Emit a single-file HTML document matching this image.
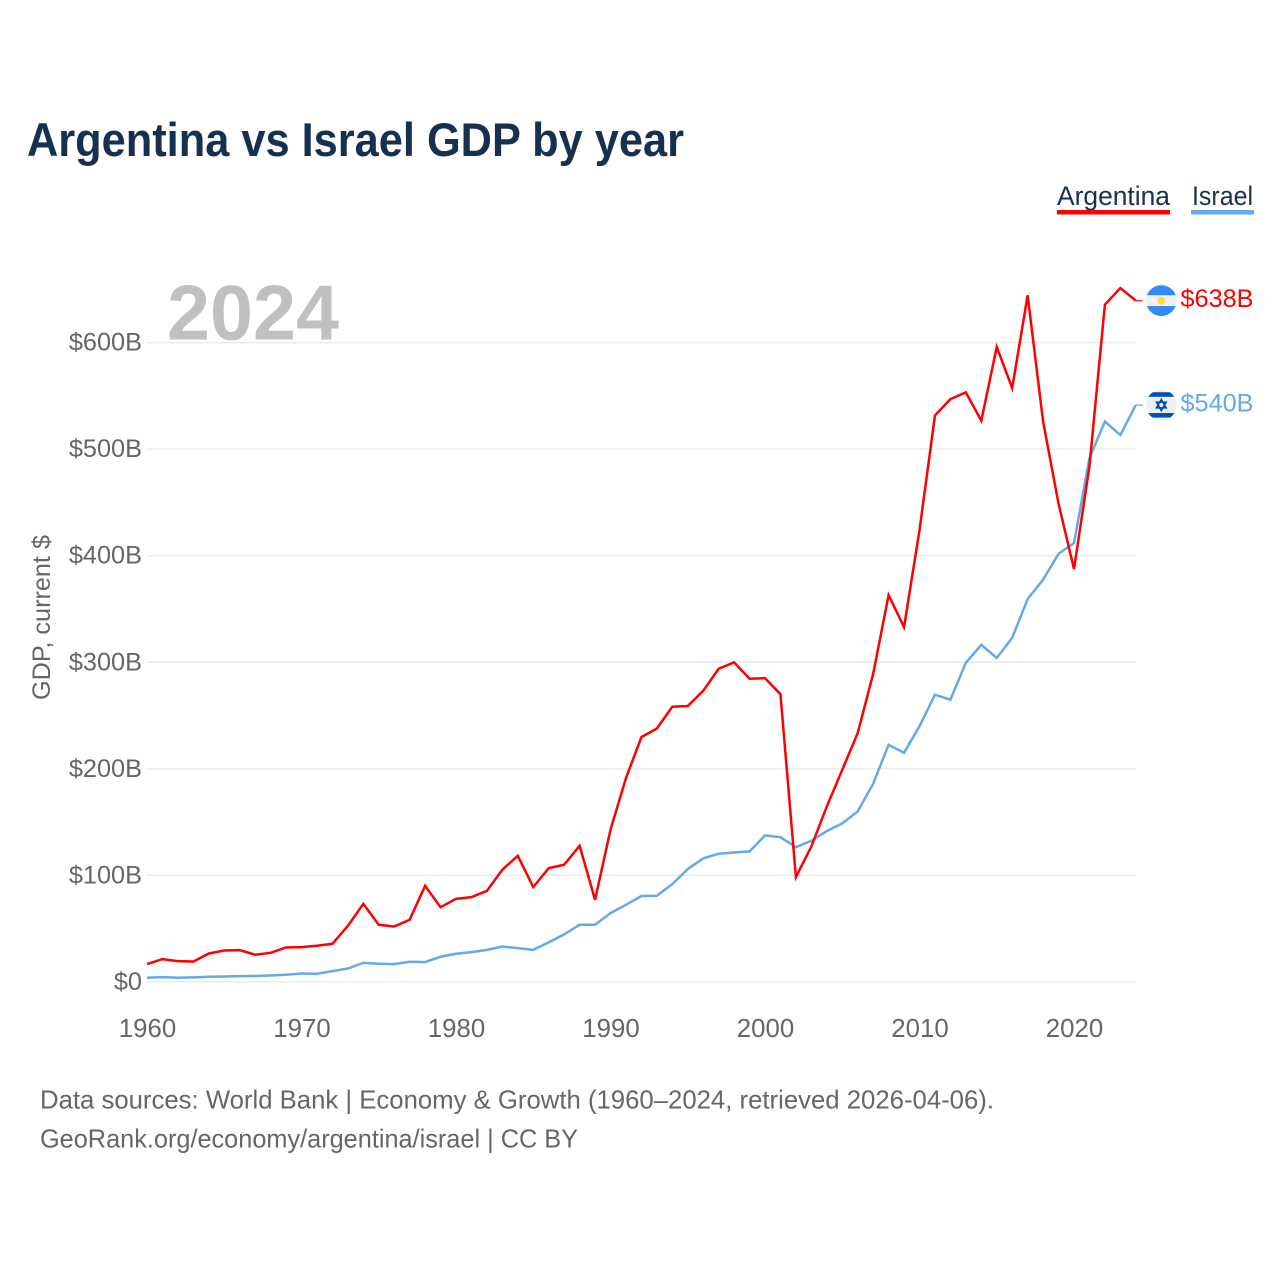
<!DOCTYPE html>
<html lang="en">
<head>
<meta charset="utf-8">
<title>Argentina vs Israel GDP by year</title>
<style>
html,body{margin:0;padding:0;background:#fff;width:1280px;height:1280px;overflow:hidden}
svg{display:block}
text{font-family:"Liberation Sans",sans-serif}
</style>
</head>
<body>
<svg id="chart" xmlns="http://www.w3.org/2000/svg" width="1280" height="1280" viewBox="0 0 1280 1280">
  <rect x="0" y="0" width="1280" height="1280" fill="#ffffff"/>
  <text x="27" y="156" font-size="47" font-weight="700" fill="#16304f" textLength="657" lengthAdjust="spacingAndGlyphs">Argentina vs Israel GDP by year</text>

  <g>
    <text x="1057" y="205" font-size="27" fill="#16304f" textLength="113" lengthAdjust="spacingAndGlyphs">Argentina</text>
    <rect x="1057" y="210" width="113" height="4.5" fill="#ff0000"/>
  </g>
  <g>
    <text x="1192" y="205" font-size="27" fill="#16304f" textLength="61" lengthAdjust="spacingAndGlyphs">Israel</text>
    <rect x="1191" y="210" width="63" height="4.5" fill="#63a9ec"/>
  </g>

  <text x="167" y="339.5" font-size="78" font-weight="700" fill="#c0c0c0" textLength="172" lengthAdjust="spacingAndGlyphs">2024</text>

  <g id="grid"></g>
  <g id="yticks"></g>
  <g id="xticks"></g>

  <text transform="translate(50,700) rotate(-90)" x="0" y="0" font-size="25" fill="#666666" textLength="165" lengthAdjust="spacingAndGlyphs">GDP, current $</text>

  <g id="series"></g>

  <g id="flag-ar">
    <defs>
      <clipPath id="clip-ar"><circle cx="0" cy="0" r="15.4"/></clipPath>
      <clipPath id="clip-il"><circle cx="0" cy="0" r="15.4"/></clipPath>
    </defs>
    <g clip-path="url(#clip-ar)">
      <rect x="-16" y="-16" width="32" height="32" fill="#f0f0f0"/>
      <rect x="-16" y="-16" width="32" height="10.6" fill="#338af3"/>
      <rect x="-16" y="5.4" width="32" height="10.6" fill="#338af3"/>
    </g>
    <circle cx="0" cy="0" r="4" fill="#ffda44"/>
  </g>
  <g id="flag-il">
    <g clip-path="url(#clip-il)">
      <rect x="-16" y="-16" width="32" height="32" fill="#f0f0f0"/>
      <rect x="-16" y="-12.8" width="32" height="4.6" fill="#0052b4"/>
      <rect x="-16" y="8" width="32" height="4.6" fill="#0052b4"/>
    </g>
    <path d="M0,-5.5 L4.8,2.8 L-4.8,2.8 Z M0,5.5 L4.8,-2.8 L-4.8,-2.8 Z" fill="none" stroke="#0052b4" stroke-width="1.7"/>
  </g>

  <g id="end-labels"></g>

  <text x="40" y="1108.5" font-size="26" fill="#666666" textLength="954" lengthAdjust="spacingAndGlyphs">Data sources: World Bank | Economy &amp; Growth (1960–2024, retrieved 2026-04-06).</text>
  <text x="40" y="1147.5" font-size="26" fill="#666666" textLength="538" lengthAdjust="spacingAndGlyphs">GeoRank.org/economy/argentina/israel | CC BY</text>
</svg>
<script>
const years = [1960,1961,1962,1963,1964,1965,1966,1967,1968,1969,1970,1971,1972,1973,1974,1975,1976,1977,1978,1979,1980,1981,1982,1983,1984,1985,1986,1987,1988,1989,1990,1991,1992,1993,1994,1995,1996,1997,1998,1999,2000,2001,2002,2003,2004,2005,2006,2007,2008,2009,2010,2011,2012,2013,2014,2015,2016,2017,2018,2019,2020,2021,2022,2023,2024];
const argentinaGdp = [16.6,21.3,19.4,19,26.6,29.4,29.7,25.4,27.2,32.2,32.6,33.8,35.7,52.5,73.2,53.5,51.9,58.2,90.1,70,77.9,79.5,85.4,105.2,118.3,88.9,106.7,109.9,127.7,77,142.7,191.2,229.7,237.8,258.2,258.9,273.2,293.9,299.9,284.5,285.1,270,98.3,127,164.6,199,233.5,289,363,333,424,531.7,547,553.4,526.8,596,557.4,644.5,526,448.8,387.5,484,635.7,651.3,639.5];
const israelGdp = [3.8,4.4,3.8,4.1,4.7,5,5.3,5.4,5.9,6.6,7.8,7.5,10,12.5,17.8,16.9,16.6,18.8,18.5,23.5,26.3,27.9,30,33.1,31.6,30,37,44.5,53.5,53.5,64.5,72.3,80.5,80.8,91.7,105.8,115.8,120.2,121.4,122.4,137.4,135.8,126.4,132.4,141.5,148.7,159.9,186,222.5,215,240,269.5,264.8,299.5,316.4,304,323,359.4,377.5,401.9,411.9,491.7,526,513.3,541.5];
const yTickValues = [0,100,200,300,400,500,600];
const yTickLabels = ['$0','$100B','$200B','$300B','$400B','$500B','$600B'];
const xTickValues = [1960,1970,1980,1990,2000,2010,2020];
const endValueLabels = ['$638B','$540B'];

const NS = 'http://www.w3.org/2000/svg';
const xScale = year => 147 + (year - 1960) * 15.45;
const yScale = value => 981.8 - value * (981.8 - 342.7) / 600;

function make(tag, attrs, parent, text) {
  const el = document.createElementNS(NS, tag);
  for (const key in attrs) el.setAttribute(key, attrs[key]);
  if (text !== undefined) el.textContent = text;
  parent.appendChild(el);
  return el;
}

const gridGroup = document.getElementById('grid');
const yTickGroup = document.getElementById('yticks');
yTickValues.forEach((value, i) => {
  const y = yScale(value);
  const line = make('line', {x1: 147, x2: 1136, y1: y, y2: y, stroke: '#e9e9e9', 'stroke-width': 1.4}, gridGroup);
  
  
  const label = make('text', {x: 142, y: y + 8, 'text-anchor': 'end', 'font-size': 25.3, fill: '#666666'}, yTickGroup, yTickLabels[i]);
  
  
});

const xTickGroup = document.getElementById('xticks');
xTickValues.forEach(year => {
  const label = make('text', {x: xScale(year) + 0.5, y: 1037, 'text-anchor': 'middle', 'font-size': 25.8, fill: '#666666'}, xTickGroup, String(year));
  
  
});

function seriesPoints(values) {
  return values.map((v, i) => xScale(years[i]).toFixed(2) + ',' + yScale(v).toFixed(2)).join(' ');
}

const seriesGroup = document.getElementById('series');
const israelLine = make('polyline', {points: seriesPoints(israelGdp), fill: 'none', stroke: '#63a9ec', 'stroke-width': 2.5, 'stroke-linejoin': 'miter'}, seriesGroup);


const argentinaLine = make('polyline', {points: seriesPoints(argentinaGdp), fill: 'none', stroke: '#ff0000', 'stroke-width': 2.5, 'stroke-linejoin': 'miter'}, seriesGroup);



const lastIndex = years.length - 1;
const endX = xScale(years[lastIndex]);
const endY = [yScale(argentinaGdp[lastIndex]), yScale(israelGdp[lastIndex])];
const endColors = ['#ff0000', '#63a9ec'];
const flagIds = ['flag-ar', 'flag-il'];
const endGroup = document.getElementById('end-labels');
endY.forEach((y, i) => {
  const connector = make('line', {x1: endX, x2: endX + 7, y1: y, y2: y, stroke: endColors[i], 'stroke-width': 1.5, opacity: 0.8}, endGroup);
  
  
  document.getElementById(flagIds[i]).setAttribute('transform', 'translate(1161.3,' + y + ')');
  const label = make('text', {x: 1180.5, y: y + 6.5, 'font-size': 25.3, fill: endColors[i], textLength: 73, lengthAdjust: 'spacingAndGlyphs'}, endGroup, endValueLabels[i]);
  
  
});
</script>
</body>
</html>
